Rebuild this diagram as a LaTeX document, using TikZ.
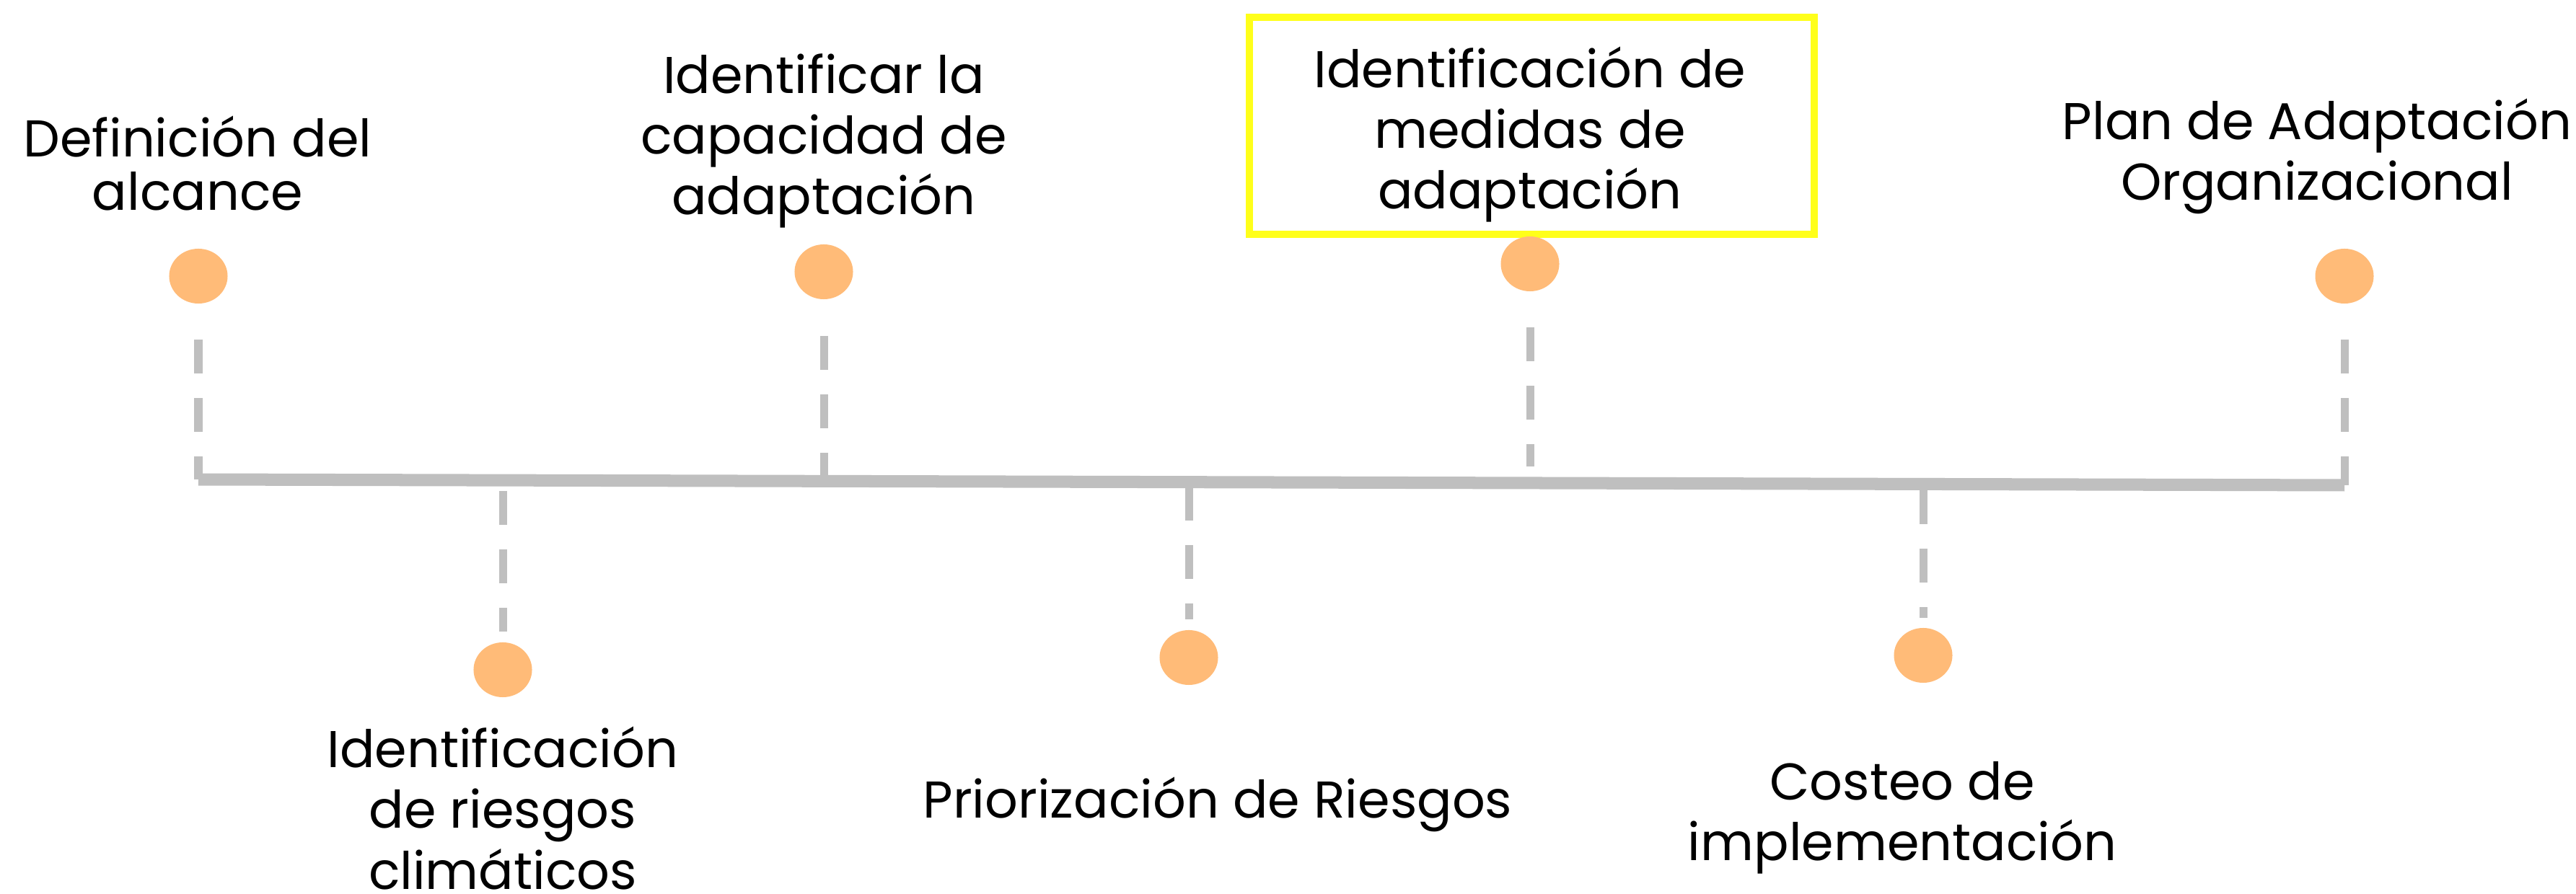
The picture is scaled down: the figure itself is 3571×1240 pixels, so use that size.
\documentclass[tikz,border=0pt]{standalone}
\usepackage{fontspec}
\setmainfont{Poppins}
\usetikzlibrary{shapes.geometric}
\definecolor{dotorange}{HTML}{FFBB78}
\definecolor{stemgray}{HTML}{BFBFBF}
\definecolor{boxyellow}{HTML}{FFFF1A}
\begin{document}
\begin{tikzpicture}[x=0.01cm,y=-0.01cm,
  dot/.style={ellipse, fill=dotorange, draw=none, inner sep=0pt, minimum width=0.81cm, minimum height=0.76cm},
  stem/.style={draw=stemgray, line width=0.11cm, dash pattern=on 0.47cm off 0.34cm},
  axisline/.style={draw=stemgray, line width=0.17cm},
  lbl/.style={align=center, anchor=base, inner sep=0pt, font=\fontsize{20.4pt}{23.9pt}\selectfont},
  lbltight/.style={lbl, font=\fontsize{20.4pt}{21.3pt}\selectfont},
  hlbox/.style={draw=boxyellow, line width=0.1cm, minimum width=7.83cm, minimum height=3.01cm, inner sep=0pt}
]
\useasboundingbox (0,0) rectangle (3571,1240);
\fill[white] (0,0) rectangle (3571,1240);

% highlight box
\node[hlbox] (box) at (2123.5,174.5) {};

% axis
\coordinate (axL) at (275,665);
\coordinate (axR) at (3250,673);
\draw[axisline] (axL) -- (axR);

% dots
\node[dot] (d1) at (275,383) {};
\node[dot] (d2) at (1142,377) {};
\node[dot] (d3) at (2121,366) {};
\node[dot] (d4) at (3250,383) {};
\node[dot] (d5) at (697,929) {};
\node[dot] (d6) at (1648,912) {};
\node[dot] (d7) at (2666,909) {};

% stems
\coordinate (s1a) at (275,471);  \coordinate (s1b) at (275,665);
\coordinate (s2a) at (1142,466); \coordinate (s2b) at (1142,660);
\coordinate (s3a) at (2121,454); \coordinate (s3b) at (2121,647);
\coordinate (s4a) at (3250,471); \coordinate (s4b) at (3250,673);
\coordinate (s5a) at (697,681);  \coordinate (s5b) at (697,876);
\coordinate (s6a) at (1648,675); \coordinate (s6b) at (1648,859);
\coordinate (s7a) at (2666,680); \coordinate (s7b) at (2666,857);
\draw[stem] (s1a) -- (s1b);
\draw[stem] (s2a) -- (s2b);
\draw[stem] (s3a) -- (s3b);
\draw[stem] (s4a) -- (s4b);
\draw[stem] (s5a) -- (s5b);
\draw[stem] (s6a) -- (s6b);
\draw[stem] (s7a) -- (s7b);

% labels (anchored at the baseline of the last line)
\node[lbltight] (t1) at (274,292) {Definición del\\alcance};
\node[lbl] (t2) at (1142,298) {Identificar la\\capacidad de\\adaptación};
\node[lbl] (t3) at (2121,290) {Identificación de\\medidas de\\adaptación};
\node[lbl] (t4) at (3212,278) {Plan de Adaptación\\Organizacional};
\node[lbl] (t5) at (697,1233) {Identificación\\de riesgos\\climáticos};
\node[lbl] (t6) at (1688,1135) {Priorización de Riesgos};
\node[lbl] (t7) at (2637,1194) {Costeo de\\implementación};
\end{tikzpicture}
\end{document}
